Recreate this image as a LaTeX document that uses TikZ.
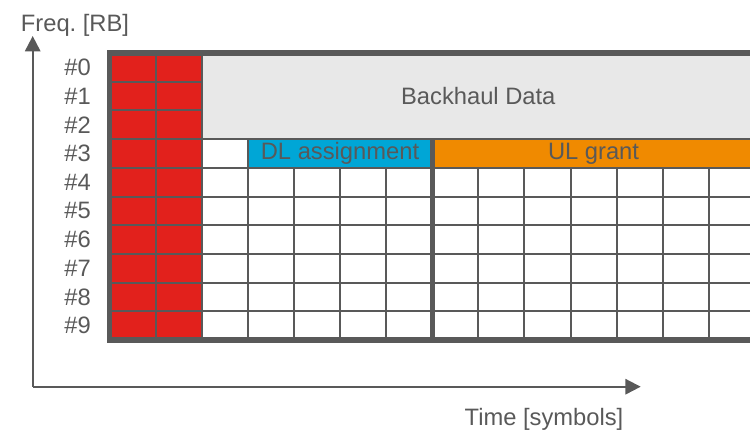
\documentclass[tikz,border=0pt]{standalone}
\usepackage{fontspec}
\setmainfont{Liberation Sans}
\usepackage{tikz}
\usetikzlibrary{arrows.meta}
\definecolor{gridgrey}{HTML}{595959}
\definecolor{rsred}{HTML}{E2211C}
\definecolor{dlblue}{HTML}{00A6D6}
\definecolor{ulorange}{HTML}{F08A00}
\definecolor{bhgrey}{HTML}{E8E8E8}
\def\gx{109.5}
\def\gy{53}
\def\cw{46.1}
\def\rh{28.7}
\frenchspacing

\begin{document}
\begin{tikzpicture}[x=0.75pt, y=-0.75pt, font=\fontsize{17.8}{20}\selectfont, text=gridgrey,
	axis/.style={line width=1.5pt, gridgrey, -{Triangle[length=11.5pt, width=11.5pt]}},
	cell/.style={line width=1.5pt, gridgrey},
	frame/.style={line width=4pt, gridgrey}]
	\useasboundingbox (0,0) rectangle (750,430);
	\clip (0,0) rectangle (750,430);
	\fill[rsred] (\gx,\gy) rectangle ({\gx+2*\cw},{\gy+10*\rh});
	\fill[bhgrey] ({\gx+2*\cw},\gy) rectangle ({\gx+14*\cw},{\gy+3*\rh});
	\fill[dlblue] ({\gx+3*\cw},{\gy+3*\rh}) rectangle ({\gx+7*\cw},{\gy+4*\rh});
	\fill[ulorange] ({\gx+7*\cw},{\gy+3*\rh}) rectangle ({\gx+14*\cw},{\gy+4*\rh});
	\foreach \r in {1,2}
		\draw[cell] (\gx,{\gy+\r*\rh}) -- ({\gx+2*\cw},{\gy+\r*\rh});
	\foreach \r in {3,...,9}
		\draw[cell] (\gx,{\gy+\r*\rh}) -- ({\gx+14*\cw},{\gy+\r*\rh});
	\foreach \c in {1,2}
		\draw[cell] ({\gx+\c*\cw},\gy) -- ({\gx+\c*\cw},{\gy+10*\rh});
	\draw[cell] ({\gx+3*\cw},{\gy+3*\rh}) -- ({\gx+3*\cw},{\gy+10*\rh});
	\foreach \c in {4,5,6,8,9,10,11,12,13}
		\draw[cell] ({\gx+\c*\cw},{\gy+4*\rh}) -- ({\gx+\c*\cw},{\gy+10*\rh});
	\draw[frame] ({\gx+7*\cw},{\gy+3*\rh}) -- ({\gx+7*\cw},{\gy+10*\rh});
	\draw[frame] (\gx,\gy) rectangle ({\gx+14*\cw},{\gy+10*\rh});
	\node (bh) at ({\gx+8*\cw},{\gy+1.5*\rh}) {Backhaul Data};
	\node (dl) at ({\gx+5*\cw},{\gy+3.5*\rh}) {DL assignment};
	\node (ul) at ({\gx+10.5*\cw},{\gy+3.5*\rh}) {UL grant};
	\foreach \r in {0,...,9}
		\node[anchor=east, inner sep=0pt] (rb\r) at (91,{\gy+(\r+0.5)*\rh}) {\#\r};
	\coordinate (origin) at (32.7,386.7);
	\coordinate (ftip) at (32.7,36);
	\coordinate (ttip) at (640.7,386.7);
	\draw[axis] (origin) -- (ftip);
	\draw[axis] (origin) -- (ttip);
	\node (freq) at (75,25) {Freq. [RB]};
	\node (time) at (544,419) {Time [symbols]};
\end{tikzpicture}
\end{document}
